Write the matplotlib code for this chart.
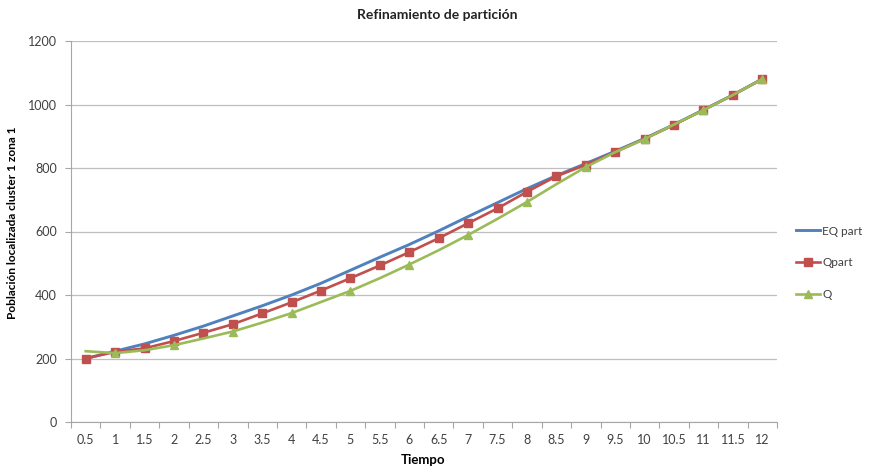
import numpy as np
import matplotlib
matplotlib.use('Agg')
import matplotlib.pyplot as plt
from matplotlib.ticker import FixedLocator, NullFormatter

plt.rcParams['font.family'] = ['Lato', 'DejaVu Sans']

# Datos
tiempo = ['0.5', '1', '1.5', '2', '2.5', '3', '3.5', '4', '4.5', '5', '5.5', '6',
          '6.5', '7', '7.5', '8', '8.5', '9', '9.5', '10', '10.5', '11', '11.5', '12']
eq_part = [200, 223, 246, 273, 302, 334, 366, 400, 437, 478, 519, 559,
           602, 647, 691, 735, 776, 814, 853, 893, 937, 983, 1030, 1080]
q_part = [200, 221, 232, 255, 281, 308, 342, 377, 414, 453, 493, 535,
          579, 626, 673, 725, 774, 810, 850, 892, 936, 983, 1030, 1081]
q = [223, 217, 226, 242, 263, 285, 313, 343, 378, 413, 453, 496,
     541, 589, 640, 693, 749, 803, 850, 891, 937, 982, 1030, 1080]

AZUL = '#4F81BD'
ROJO = '#C0504D'
VERDE = '#9BBB59'
GRIS = '#A6A6A6'

fig = plt.figure(figsize=(8.72, 4.68), dpi=100)
ax = fig.add_axes([71 / 872, 46 / 468, 706 / 872, 381 / 468])

x = np.arange(len(tiempo))
ax.plot(x, eq_part, color=AZUL, lw=2.1, label='EQ part', zorder=3)
ax.plot(x, q_part, color=ROJO, lw=1.9, marker='s', ms=5.5, label='Qpart', zorder=4)
ax.plot(x, q, color=VERDE, lw=1.9, marker='^', ms=5.8,
        markevery=list(range(1, len(tiempo), 2)), label='Q', zorder=5)

ax.set_xlim(-0.5, len(tiempo) - 0.5)
ax.set_ylim(0, 1200)
ax.set_yticks(range(0, 1201, 200))
ax.set_xticks(x)
ax.set_xticklabels(tiempo)
ax.xaxis.set_minor_locator(FixedLocator(np.arange(-0.5, len(tiempo), 1.0)))
ax.xaxis.set_minor_formatter(NullFormatter())
ax.tick_params(axis='x', which='major', length=0, pad=9, labelsize=9, colors='#404040')
ax.tick_params(axis='x', which='minor', length=4, width=0.8, color=GRIS, direction='out')
ax.tick_params(axis='y', length=4, width=0.8, color=GRIS, direction='out', labelsize=9,
               labelcolor='#404040', pad=6)

ax.grid(axis='y', color='#BFBFBF', lw=0.9)
ax.set_axisbelow(True)
for lado in ['top', 'right']:
    ax.spines[lado].set_visible(False)
ax.spines['left'].set_color(GRIS)
ax.spines['bottom'].set_color(GRIS)

ax.set_xlabel('Tiempo', fontsize=9.5, fontweight='bold')
ax.xaxis.set_label_coords(0.499, -0.085)
ax.set_ylabel('Población localizada cluster 1 zona 1', fontsize=8.6, fontweight='bold')
ax.yaxis.set_label_coords(-0.075, 0.524)
fig.text(0.502, 0.967, 'Refinamiento de partición', ha='center', va='center',
         fontsize=10, fontweight='bold', color='#222222')

ax.legend(loc='center left', bbox_to_anchor=(1.012, 0.418), frameon=False,
          fontsize=8.5, handlelength=2.0, handletextpad=0.2, labelspacing=1.75,
          labelcolor='#404040')

fig.savefig('out.png', dpi=100)
